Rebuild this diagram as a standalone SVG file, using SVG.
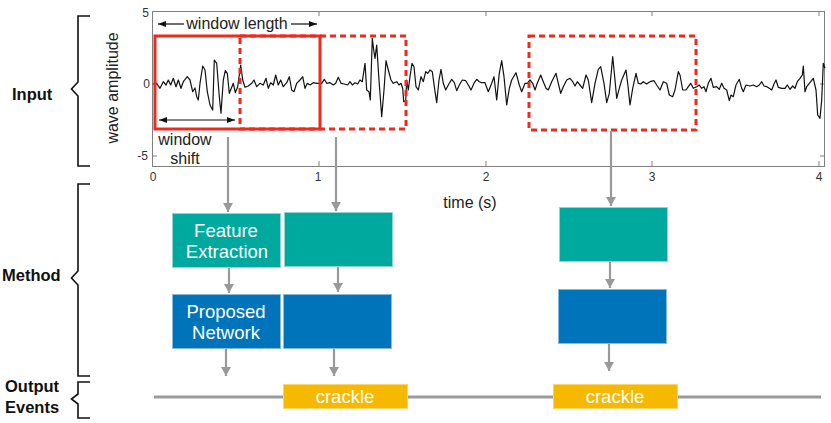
<svg xmlns="http://www.w3.org/2000/svg" width="831" height="423" viewBox="0 0 831 423">
<defs>
<style>
.lbl{font-family:"Liberation Sans",Arial,sans-serif;font-weight:bold;fill:#111;font-size:16.5px}
.ax{font-family:"Liberation Sans",Arial,sans-serif;fill:#333;font-size:12px}
.axt{font-family:"Liberation Sans",Arial,sans-serif;fill:#222;font-size:16px}
.box{font-family:"Liberation Sans",Arial,sans-serif;fill:#fff;font-size:18.5px;text-anchor:middle}
.brace{fill:none;stroke:#111;stroke-width:1.6}
.conn{stroke:#999;stroke-width:2.2;fill:none}
.teal{fill:#00a99d;stroke:#8fd6cf;stroke-width:1}
.blue{fill:#0074ba;stroke:#86b9dc;stroke-width:1}
.yel{fill:#f6b900;stroke:#fbd66a;stroke-width:1}
.red{fill:none;stroke:#ee2a1c;stroke-width:3}
.reddash{fill:none;stroke:#ee2a1c;stroke-width:3;stroke-dasharray:6 4}
.blk{stroke:#111;stroke-width:1.2;fill:none}
</style>
<marker id="ah" markerUnits="userSpaceOnUse" markerWidth="9" markerHeight="10" refX="9" refY="5" orient="auto" viewBox="0 0 9 10">
<path d="M0,0 L9,5 L0,10 Z" fill="#999"/>
</marker>
<marker id="bk" markerUnits="userSpaceOnUse" markerWidth="8" markerHeight="6" refX="8" refY="3" orient="auto-start-reverse" viewBox="0 0 8 6">
<path d="M0,0 L8,3 L0,6 Z" fill="#111"/>
</marker>
</defs>
<rect width="831" height="423" fill="#fff"/>

<g id="labels">
<text class="lbl" x="12" y="100">Input</text>
<text class="lbl" x="2" y="281" font-size="17">Method</text>
<text class="lbl" x="5" y="392">Output</text>
<text class="lbl" x="5" y="413">Events</text>
</g>

<g id="braces">
<path class="brace" d="M90,16 H78 V82 L71.5,89 L78,96 V166 H90"/>
<path class="brace" d="M90,184 H78 V271 L71.5,278 L78,285 V376 H90"/>
<path class="brace" d="M90,382 H78 V394 L71.5,399 L78,404 V418 H90"/>
</g>

<g id="plot">
<rect x="152.5" y="11.5" width="672" height="155" fill="none" stroke="#808080" stroke-width="1"/>
<path d="M319,166 v-5 M486,166 v-5 M652,166 v-5 M819,166 v-5 M319,11 v5 M486,11 v5 M652,11 v5 M819,11 v5 M152,84 h5 M152,156 h5 M825,84 h-5 M825,156 h-5" stroke="#808080" stroke-width="1"/>
<text class="ax" x="149" y="17" text-anchor="end">5</text>
<text class="ax" x="150" y="88" text-anchor="end">0</text>
<text class="ax" x="148" y="160" text-anchor="end">-5</text>
<text class="ax" x="153" y="181" text-anchor="middle">0</text>
<text class="ax" x="318" y="181" text-anchor="middle">1</text>
<text class="ax" x="486" y="181" text-anchor="middle">2</text>
<text class="ax" x="652" y="181" text-anchor="middle">3</text>
<text class="ax" x="819" y="181" text-anchor="middle">4</text>
<text class="axt" x="470" y="208" text-anchor="middle">time (s)</text>
<text class="axt" transform="translate(118,88) rotate(-90)" text-anchor="middle">wave amplitude</text>
<polyline class="blk" stroke-width="1.1" stroke-linejoin="round" points="153,84 156.7,83.3 160,88.3 163.3,81.7 166,85 168.3,80 170.7,85 173.3,78.3 176,86.7 178.3,80 181,88.3 183.3,81.7 187.3,76.7 190,80 192.7,91.7 195,88 196.7,96.7 198.3,100 200,83.3 202.7,66 205,70 207.3,91.7 210,105 212.7,110 214.3,60 216.7,63.3 219.3,96.7 221,113.3 223.3,80 225.3,70.7 227.3,73.3 229.3,93.3 231.3,88.3 233.3,83.3 235.3,92.7 237.7,86.7 240.7,65 242.7,80 245,87.3 248.3,86 251.7,83.3 254,80 256.7,86.7 260,83.3 263.3,85 266,78.3 268.3,88.3 270.7,82.7 273.3,85 275.7,75 278.3,85 280.7,80 283.3,86.7 286.7,82.7 289.3,76.7 291.7,90 294,91.7 296.7,83.3 300,80 302.7,76.7 305,88.3 307.3,83.3 310,85 313.3,82.7 316.7,83.3 318.3,83.3 321.7,83.3 324.3,79.3 326.7,83.3 330,82.7 333.3,85 335.7,83.3 338.3,77.3 341,83.3 344.3,84 347.7,85 350,81.7 352.3,85 355,82.7 357.7,84 360,80 362.3,81.7 365,63.3 366.7,90 369,91.7 370.3,100 372.3,38.3 373.7,50 375,58.3 376.7,45 379,80 381.7,116.7 384,90 386,60.7 388.3,70 391,80 393.3,83.3 396.7,81.7 399,85 401,83.3 402.7,88.3 403.7,101.7 405.7,100.7 406.7,80 408.3,90 410,76.7 412,63.3 414,66.7 416,86.7 418.3,90 421,76.7 423.3,81.7 425.7,71.7 427.7,73.3 430,70 432.3,71.7 434.3,86.7 436.7,102.7 439,80 441,69.3 443.3,83.3 445.7,90 448.3,85 451.7,79.3 454.3,82.7 456.7,90.7 459.3,85 462.3,80 465.7,80.7 468.3,85 471,90 474.3,82.7 476.7,79.3 479.3,81.7 481.7,82.7 485,82.7 488.3,91.7 491.7,83.3 494,76.7 496.7,100 499.3,73.3 501.7,60.7 504,76.7 506.7,105 509.3,88.3 511.7,80 516,72.7 519.3,85 521.7,91.7 525,83.3 527.3,83.3 530,80 532.7,83.3 535,90 537.3,83.3 540.7,75 543.3,81.7 546,88.3 548.3,90 551.7,81.7 556,73.3 558.3,83.3 560.7,93.3 563.3,86.7 566.7,80 570,78.3 572.7,81.7 575,86 577.3,81.7 580,85 582.7,88.3 586,75 588.3,80 591.7,102.7 595,83.3 598.3,69.3 600.7,66.7 604,83.3 606.7,102.7 609.3,93.3 612.7,56.7 615,80 616.7,98.3 619.3,88.3 621.7,80 626,70 627.7,83.3 630,105 632.7,88.3 636,73.3 638.3,83.3 640.7,84 643.3,81.7 646.7,84 650,81.7 654,80.7 656.7,85 660,90 663.3,81.7 666.7,83.3 669.3,95 672.7,96.7 675,90 678.3,71.7 680,75 682.7,90 686,90 688.3,86.7 690.7,83.3 693.3,88.3 696.7,86.7 699.3,85 701.7,88.3 704,86.7 706,91.7 708.3,83.3 711,78.3 713.3,87.3 716.7,86.7 719.3,89.3 721.7,83.3 724,88.3 726.7,90 729.3,100.7 731,95 733.3,96.7 736,85 739.3,79.3 741.7,88.3 743.3,91.7 746,85 750,86 753.3,85 756.7,86.7 759.3,85 761.7,81.7 764,86 766.7,86.7 769.3,88.3 771.7,90 774,84 776,80 778.3,87.3 781.7,88.3 785,88.3 787.3,85 790,89.3 792.7,86 795,88.3 797.3,81.7 800,78.3 802.3,75 803.3,66 805,91.7 806.7,86.7 809.3,83.3 813.3,78.3 816,90 817.7,115 820,118.3 821.7,100 823.3,63.3 825,68.3"/>
</g>

<g id="windows">
<rect class="reddash" x="240" y="36" width="166" height="93"/>
<rect class="reddash" x="529" y="36" width="167" height="94"/>
<rect class="red" x="155" y="36" width="165" height="93"/>
<line class="blk" x1="184" y1="24" x2="158" y2="24" marker-end="url(#bk)"/>
<line class="blk" x1="291" y1="24" x2="317" y2="24" marker-end="url(#bk)"/>
<text class="axt" x="237" y="29" text-anchor="middle">window length</text>
<line class="blk" x1="159" y1="120" x2="235" y2="120" marker-start="url(#bk)" marker-end="url(#bk)"/>
<text class="axt" x="185" y="145" text-anchor="middle">window</text>
<text class="axt" x="185" y="164" text-anchor="middle">shift</text>
</g>

<g id="connectors">
<line class="conn" x1="228" y1="137" x2="228" y2="212" marker-end="url(#ah)"/>
<line class="conn" x1="336" y1="137" x2="336" y2="211" marker-end="url(#ah)"/>
<line class="conn" x1="611" y1="131" x2="611" y2="206" marker-end="url(#ah)"/>
<line class="conn" x1="229" y1="267" x2="229" y2="293" marker-end="url(#ah)"/>
<line class="conn" x1="338" y1="266" x2="338" y2="292" marker-end="url(#ah)"/>
<line class="conn" x1="610" y1="261" x2="610" y2="288" marker-end="url(#ah)"/>
<line class="conn" x1="226" y1="348" x2="226" y2="376" marker-end="url(#ah)"/>
<line class="conn" x1="334" y1="348" x2="334" y2="376" marker-end="url(#ah)"/>
<line class="conn" x1="609" y1="343" x2="609" y2="371" marker-end="url(#ah)"/>
<line x1="154" y1="397" x2="821" y2="397" stroke="#9a9a9a" stroke-width="3"/>
</g>

<g id="fe1"><rect class="teal" x="172.5" y="213.5" width="108" height="54"/>
<text class="box" x="226" y="237">Feature</text><text class="box" x="227" y="258">Extraction</text></g>
<g id="fe2"><rect class="teal" x="284.5" y="212.5" width="108" height="54"/></g>
<g id="fe3"><rect class="teal" x="559.5" y="207.5" width="108" height="54"/></g>
<g id="pn1"><rect class="blue" x="172.5" y="294.5" width="108" height="54"/>
<text class="box" x="226" y="318">Proposed</text><text class="box" x="226" y="339">Network</text></g>
<g id="pn2"><rect class="blue" x="283.5" y="294.5" width="108" height="54"/></g>
<g id="pn3"><rect class="blue" x="558.5" y="289.5" width="108" height="54"/></g>
<g id="ev1"><rect class="yel" x="283.5" y="384.5" width="124" height="24"/>
<text class="box" x="345" y="403" font-size="18">crackle</text></g>
<g id="ev2"><rect class="yel" x="553.5" y="384.5" width="124" height="24"/>
<text class="box" x="615" y="403" font-size="18">crackle</text></g>
</svg>
